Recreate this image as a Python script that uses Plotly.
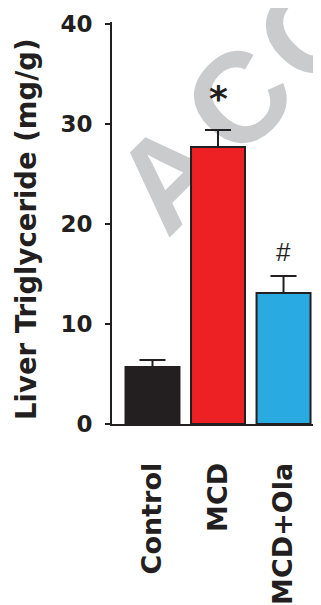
import plotly.graph_objects as go

# ---- data ----
categories = ["Control", "MCD", "MCD+Ola"]
values = [5.7, 27.7, 13.1]
errors_upper = [0.7, 1.7, 1.7]
marks = ["", "*", "#"]
mark_values = [None, 32.6, 17.2]
bar_colors = ["#231f20", "#ed2024", "#29abe2"]
y_ticks = [0, 10, 20, 30, 40]
y_title = "Liver Triglyceride (mg/g)"
watermark_letters = ["A", "C", "C"]

INK = "#231f20"
OFF = 8  # page body margin
W, H = 321 - OFF, 605 - OFF
ML, MR, MT = 112 - OFF, 0, 22 - OFF
PH = 402
MB = H - MT - PH
PW = W - ML - MR
Y0 = 424 - OFF  # figure pixel of y=0


def px_to_paper(px, py):
    """page pixel -> paper coords"""
    return (px - OFF - ML) / PW, (Y0 - (py - OFF)) / PH


fig = go.Figure()
fig.add_trace(go.Bar(
    x=categories, y=values,
    width=0.824,
    marker=dict(color=bar_colors, line=dict(color=INK, width=2)),
    error_y=dict(type="data", symmetric=False, array=errors_upper,
                 arrayminus=[0] * len(values), color=INK, thickness=2, width=13),
    showlegend=False,
))

annotations = []
for c, m, v in zip(categories, marks, mark_values):
    if not m:
        continue
    if m == "*":
        f = dict(family="DejaVu Sans", size=36, color=INK, weight="bold")
    else:
        f = dict(family="Liberation Sans", size=26, color=INK)
    annotations.append(dict(x=c, y=v, xref="x", yref="y", text=m, showarrow=False,
                            font=f, xanchor="center", yanchor="middle"))

# y-axis title
tx, ty = px_to_paper(26, 230)
annotations.append(dict(
    x=tx, y=ty, xref="paper", yref="paper",
    text=y_title, textangle=-90, showarrow=False,
    font=dict(family="DejaVu Sans", size=27.5, color=INK, weight="bold"),
    xanchor="center", yanchor="middle",
))

# watermark letters (page-pixel centres)
wm_centres = [(160, 167), (230, 90), (302, 20)]
shapes = []
for letter, (cx, cy) in zip(watermark_letters, wm_centres):
    wx, wy = px_to_paper(cx, cy)
    shapes.append(dict(
        type="rect", xref="paper", yref="paper", layer="below",
        x0=wx - 0.001, x1=wx + 0.001, y0=wy - 0.001, y1=wy + 0.001,
        line=dict(width=0), fillcolor="rgba(0,0,0,0)",
        label=dict(text=letter, textangle=-45, textposition="middle center",
                   font=dict(family="Liberation Sans", size=128, color="#cacbcd", weight="bold")),
    ))

fig.update_layout(
    width=W, height=H,
    margin=dict(l=ML, r=MR, t=MT, b=MB, pad=0),
    paper_bgcolor="white", plot_bgcolor="rgba(0,0,0,0)",
    annotations=annotations, shapes=shapes,
    showlegend=False,
    xaxis=dict(
        range=[-0.618, 2.572], showline=True, linecolor=INK, linewidth=2,
        ticks="", tickangle=-90, ticklabelstandoff=26,
        tickfont=dict(family="DejaVu Sans", size=27, color=INK, weight="bold"),
        showgrid=False, zeroline=False, automargin=False, fixedrange=True,
    ),
    yaxis=dict(
        range=[0, 40.2], tickvals=y_ticks, ticktext=[str(t) for t in y_ticks],
        showline=True, linecolor=INK, linewidth=2,
        ticks="outside", ticklen=5, tickwidth=2, tickcolor=INK,
        ticklabelstandoff=8,
        tickfont=dict(family="DejaVu Sans", size=23, color=INK, weight="bold"),
        showgrid=False, zeroline=False, automargin=False, fixedrange=True,
    ),
)

fig.write_html("out.html")
